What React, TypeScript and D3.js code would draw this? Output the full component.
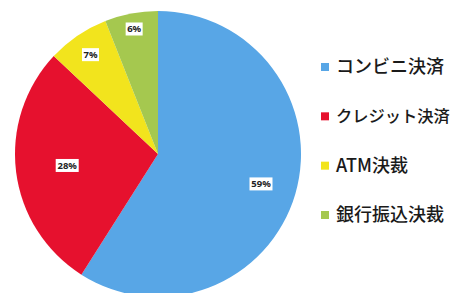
import * as d3 from "d3";
import { useEffect, useRef } from "react";

const categories = ["コンビニ決済", "クレジット決済", "ATM決裁", "銀行振込決裁"];
const shares = [59, 28, 7, 6];
const colors = ["#58a6e6", "#e6112e", "#f2e41d", "#a5c84f"];

const W = 457;
const H = 293;
const cx = 158;
const cy = 154;
const R = 143;
// how far out each percentage box sits, as a share of the radius
const labelPos = [0.75, 0.64, 0.84, 0.89];

export default function App() {
  const ref = useRef<SVGSVGElement>(null);

  useEffect(() => {
    const svg = d3.select(ref.current);
    svg.selectAll("*").remove();

    const pie = d3.pie<number>().sort(null).value((d) => d);
    const arcs = pie(shares);
    const arc = d3.arc<d3.PieArcDatum<number>>().innerRadius(0).outerRadius(R);

    const g = svg.append("g").attr("transform", `translate(${cx},${cy})`);
    g.selectAll("path")
      .data(arcs)
      .enter()
      .append("path")
      .attr("d", arc)
      .attr("fill", (d, i) => colors[i]);

    arcs.forEach((d, i) => {
      const a = (d.startAngle + d.endAngle) / 2;
      const r = R * labelPos[i];
      const x = Math.sin(a) * r;
      const y = -Math.cos(a) * r;
      const txt = shares[i] + "%";
      const w = txt.length * 6 + 5;
      g.append("rect")
        .attr("x", x - w / 2)
        .attr("y", y - 6.5)
        .attr("width", w)
        .attr("height", 13)
        .attr("fill", "#fff");
      g.append("text")
        .attr("x", x)
        .attr("y", y)
        .attr("dy", "0.35em")
        .attr("text-anchor", "middle")
        .attr("font-family", "'Noto Sans', sans-serif")
        .attr("font-weight", "bold")
        .attr("font-size", 9.5)
        .attr("fill", "#222")
        .text(txt);
    });

    const legendY = d3.scalePoint<string>().domain(categories).range([67, 215]);
    const lg = svg.append("g");
    categories.forEach((c, i) => {
      const y = legendY(c)!;
      lg.append("rect")
        .attr("x", 321)
        .attr("y", y - 4)
        .attr("width", 8)
        .attr("height", 8)
        .attr("fill", colors[i]);
      const t = lg.append("text")
        .attr("x", 336)
        .attr("y", y)
        .attr("dy", "0.36em")
        .attr("font-family", "'Noto Sans CJK JP', sans-serif")
        .attr("font-weight", 500)
        .attr("font-size", 18)
        .attr("fill", "#1a1a1a")
        .text(c);
      // the original font has narrower kana; shrink a row that would run off the edge
      const len = (t.node() as SVGTextElement).getComputedTextLength();
      if (len > 114) t.attr("font-size", (18 * 114) / len);
    });
  }, []);

  return (
    <div style={{ position: "absolute", left: 0, top: 0, width: W, height: H, background: "#fff" }}>
      <svg ref={ref} width={W} height={H} style={{ display: "block" }}></svg>
    </div>
  );
}
